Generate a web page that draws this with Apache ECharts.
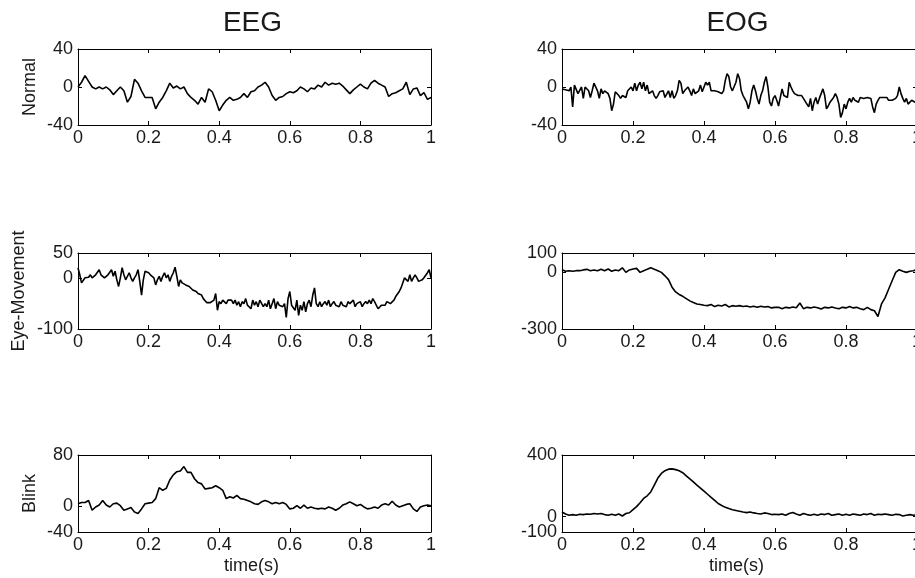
<!DOCTYPE html>
<html>
<head>
<meta charset="utf-8">
<script src="https://cdn.jsdelivr.net/npm/echarts@6/dist/echarts.min.js"></script>
<style>
html,body{margin:0;padding:0;background:#fff;}
#chart{width:915px;height:578px;}
</style>
</head>
<body>
<div id="chart"></div>
<script>
// ---------- chart text ----------
const columnTitles = ['EEG', 'EOG'];
const rowNames = ['Normal', 'Eye-Movement', 'Blink'];
const xLabel = 'time(s)';
const xTicks = [0, 0.2, 0.4, 0.6, 0.8, 1];

// y tick values per row: [EEG, EOG]
const yTicksNormal = [[-40, 0, 40], [-40, 0, 40]];
const yTicksEye = [[-100, 0, 50], [-300, 0, 100]];
const yTicksBlink = [[-40, 0, 80], [-100, 0, 400]];

// ---------- signals (time 0..1 s) ----------
const eegNormalStep = 0.01;
const eegNormal = [
  0, 5, 12, 6, 0, -2, 0, -2, 0, -3,
  -8, -4, 0, -4, -16, -10, 8, 4, -4, -11,
  -11, -11, -23, -16, -11, -4, 4, -1, 1, -2,
  0, -7, -11, -14, -18, -11, -16, -2, -5, -14,
  -25, -19, -14, -11, -14, -13, -11, -7, -11, -5,
  -4, 0, 2, 5, 0, -9, -14, -11, -10, -7,
  -5, -6, -4, 0, -2, -5, -1, -2, 2, 0,
  5, 2, 4, 3, 4, 1, -3, -7, -3, 0,
  3, 0, -2, 4, 7, 4, 2, 0, -10, -7,
  -6, -4, -2, 5, -8, -2, -1, -9, -6, -13,
  -11
];

const eogNormalStep = 0.005;
const eogNormal = [
  -2, -1, -3, -4, -4, 0, -21, 2, 0, -7, -9, 0, -12, 0, 2, -4, -11, -4, 4, 5,
  -4, -12, -2, -7, -4, -5, -7, -12, -25, -18, -5, -4, -9, -12, -9, -7, -11, -4, -4, 0,
  -4, 4, -4, 2, 5, -2, 5, -4, 2, -7, -7, -4, -9, -12, -9, -5, -5, -4, -11, -12,
  -4, -11, -4, -12, -9, -4, 7, 4, -7, -4, -5, 0, -4, -9, -2, -7, -5, -4, 2, -5,
  0, 5, 2, 5, -4, -2, -4, -5, -5, -5, -7, -4, 7, 14, 11, 0, -4, -5, 5, 14,
  9, -4, -9, -7, -16, -23, -16, -4, 2, -4, -12, -18, -9, -4, 5, 11, 0, -16, -20, -12,
  -9, -14, -20, -11, -2, -9, -7, -11, 5, 0, -4, -7, -5, -9, -7, -9, -12, -11, -18, -21,
  -12, -25, -16, -11, -18, -12, -7, -2, -9, -23, -20, -16, -14, -11, -7, -11, -18, -32, -27, -18,
  -23, -16, -12, -16, -11, -14, -12, -16, -11, -9, -12, -14, -11, -9, -12, -21, -27, -18, -14, -11,
  -12, -11, -12, -11, -14, -12, -14, -12, -12, -9, 0, -7, -12, -16, -12, -18, -20, -14, -12, -16,
  -16
];

const eegEyeStep = 0.005;
const eegEye = [
  21, 7, -9, -11, 1, 4, 2, 7, 1, 4, 7, 4, 17, 7, 4, 1, 4, 7, 4, 17,
  4, 14, -3, -16, 1, 21, 7, -3, -6, 11, 1, -6, 1, 7, 17, -6, -33, -3, 14, 14,
  11, 7, 4, 1, -13, -3, 4, -6, 4, 11, 1, 7, -6, 4, 11, 22, 4, -16, -3, -9,
  -9, -13, -13, -16, -19, -23, -23, -26, -30, -32, -33, -40, -43, -48, -46, -48, -46, -43, -30, -63,
  -46, -50, -43, -46, -50, -43, -46, -43, -50, -43, -53, -46, -56, -46, -50, -40, -53, -50, -60, -43,
  -53, -46, -56, -43, -40, -56, -50, -56, -43, -60, -50, -40, -60, -46, -53, -50, -56, -50, -77, -40,
  -26, -53, -50, -63, -43, -73, -53, -63, -46, -66, -50, -43, -56, -33, -19, -50, -56, -46, -56, -50,
  -46, -53, -43, -56, -50, -46, -53, -50, -56, -46, -53, -50, -56, -46, -50, -53, -43, -56, -50, -53,
  -46, -56, -50, -46, -50, -43, -50, -40, -46, -43, -60, -63, -53, -50, -53, -46, -43, -50, -53, -43,
  -36, -33, -26, -19, -9, 1, 4, -6, 7, -6, 1, 7, 1, -6, -6, -3, 1, 1, 11, 17,
  1
];

const eogEyeStep = 0.01;
const eogEye = [
  12, 4, 7, 4, 7, 7, 11, 14, 7, 11,
  7, 14, 7, 16, 4, 11, 7, 22, -2, 11,
  16, 19, -2, 7, 14, 22, 14, 7, -2, -20,
  -40, -80, -105, -118, -128, -140, -152, -161, -168, -171,
  -175, -177, -171, -182, -175, -179, -171, -184, -177, -180,
  -177, -182, -179, -184, -180, -186, -180, -184, -182, -189,
  -186, -186, -193, -186, -189, -184, -188, -163, -193, -186,
  -189, -184, -188, -195, -186, -189, -184, -189, -193, -186,
  -189, -182, -189, -186, -193, -198, -186, -198, -204, -234,
  -168, -136, -91, -46, -2, 12, 4, -2, 4, 7,
  14
];

const eegBlinkStep = 0.01;
const eegBlink = [
  4, 6, 6, 9, -6, -1, 2, 9, 2, -1,
  4, 5, 1, -6, -4, -2, -9, -11, -4, 4,
  5, 6, 12, 29, 25, 28, 41, 49, 54, 55,
  62, 53, 53, 43, 37, 35, 27, 28, 29, 32,
  29, 25, 12, 15, 13, 17, 12, 11, 9, 7,
  4, 3, 7, 9, 7, 4, 6, 4, 6, 3,
  -4, -3, 1, -3, 2, -3, -1, -3, -4, -3,
  -4, -1, -3, -6, -3, 2, 4, 7, 4, 1,
  3, -1, -4, -3, -1, -3, 2, 4, 2, 8,
  2, -1, 1, 3, 4, -4, -8, -1, 1, 2,
  1
];

const eogBlinkStep = 0.01;
const eogBlink = [
  30, 17, 9, 13, 9, 15, 13, 17, 15, 20,
  17, 20, 13, 9, 15, 9, 17, 4, 20, 25,
  45, 65, 90, 118, 135, 160, 205, 250, 280, 298,
  308, 310, 305, 298, 285, 265, 245, 225, 205, 185,
  165, 145, 125, 105, 85, 72, 60, 52, 45, 40,
  35, 30, 26, 30, 24, 20, 17, 24, 20, 13,
  15, 13, 17, 9, 20, 26, 17, 9, 20, 13,
  9, 15, 9, 17, 13, 20, 9, 13, 17, 9,
  15, 9, 17, 13, 9, 17, 13, 20, 9, 15,
  13, 17, 13, 9, 15, 13, 4, 9, 13, 9,
  13
];

// ---------- layout ----------
const panels = [
  {data: eegNormal, step: eegNormalStep, ticks: yTicksNormal[0]},
  {data: eogNormal, step: eogNormalStep, ticks: yTicksNormal[1]},
  {data: eegEye, step: eegEyeStep, ticks: yTicksEye[0]},
  {data: eogEye, step: eogEyeStep, ticks: yTicksEye[1]},
  {data: eegBlink, step: eegBlinkStep, ticks: yTicksBlink[0]},
  {data: eogBlink, step: eogBlinkStep, ticks: yTicksBlink[1]}
];
const colLeft = [78, 562];
const colWidth = [353, 355];
const rowTop = [49, 253, 455];
const rowHeight = [76, 76, 77];

const FONT = '"Liberation Sans", Arial, Helvetica, sans-serif';
const TXT = '#1a1a1a';

const grids = [], xAxes = [], yAxes = [], series = [];
panels.forEach((p, g) => {
  const r = Math.floor(g / 2), c = g % 2;
  grids.push({left: colLeft[c], top: rowTop[r], width: colWidth[c], height: rowHeight[r],
    containLabel: false, outerBoundsMode: 'none', show: false});
  const axLine = {show: true, onZero: false, lineStyle: {color: '#000', width: 1}};
  const xBase = {type: 'value', gridIndex: g, min: 0, max: 1, interval: 0.2,
    axisLine: axLine, splitLine: {show: false},
    axisTick: {show: true, inside: true, length: 4, lineStyle: {color: '#000'}}};
  xAxes.push(Object.assign({}, xBase, {position: 'bottom',
    axisLabel: {show: true, margin: 4, fontSize: 18, fontFamily: FONT, color: TXT,
      hideOverlap: false, showMinLabel: true, showMaxLabel: true,
      formatter: v => String(+(+v).toFixed(1))}}));
  xAxes.push(Object.assign({}, xBase, {position: 'top', axisLabel: {show: false}}));
  const yMin = p.ticks[0], yMax = p.ticks[p.ticks.length - 1];
  const yBase = {type: 'value', gridIndex: g, min: yMin, max: yMax,
    splitLine: {show: false}};
  const labelStyle = {show: true, margin: 5, fontSize: 18, fontFamily: FONT, color: TXT,
    hideOverlap: false, formatter: v => String(v)};
  // left axis: line, ticks, labels except the bottom one
  yAxes.push(Object.assign({}, yBase, {position: 'left', axisLine: axLine,
    axisTick: {show: true, inside: true, length: 4, customValues: p.ticks, lineStyle: {color: '#000'}},
    axisLabel: Object.assign({}, labelStyle, {customValues: p.ticks.slice(1)})}));
  // right mirror axis: line and ticks only
  yAxes.push(Object.assign({}, yBase, {position: 'right', axisLine: axLine,
    axisTick: {show: true, inside: true, length: 4, customValues: p.ticks, lineStyle: {color: '#000'}},
    axisLabel: {show: false}}));
  // second left axis: only the bottom label (kept apart so it is never hidden as overlapping)
  yAxes.push(Object.assign({}, yBase, {position: 'left', axisLine: {show: false},
    axisTick: {show: false},
    axisLabel: Object.assign({}, labelStyle, {customValues: [p.ticks[0]]})}));
  series.push({
    type: 'line', xAxisIndex: 2 * g, yAxisIndex: 3 * g,
    data: p.data.map((v, i) => [i * p.step, v]),
    showSymbol: false, symbol: 'none', smooth: false,
    lineStyle: {color: '#000', width: 1.6},
    clip: true, silent: true
  });
});

const graphics = [];
columnTitles.forEach((t, c) => {
  graphics.push({type: 'text', x: colLeft[c] + colWidth[c] / 2 - 2, y: 23,
    style: {text: t, font: '28px ' + FONT, fill: TXT, textAlign: 'center', textVerticalAlign: 'middle'}});
  graphics.push({type: 'text', x: colLeft[c] + colWidth[c] / 2 - 3, y: 566,
    style: {text: xLabel, font: '18px ' + FONT, fill: TXT, textAlign: 'center', textVerticalAlign: 'middle'}});
});
const rowNameX = [30, 19, 30];
rowNames.forEach((n, r) => {
  graphics.push({type: 'text', x: rowNameX[r], y: rowTop[r] + rowHeight[r] / 2, rotation: Math.PI / 2,
    style: {text: n, font: '18px ' + FONT, fill: TXT, textAlign: 'center', textVerticalAlign: 'middle'}});
});

const chart = echarts.init(document.getElementById('chart'), null, {renderer: 'canvas'});
chart.setOption({
  animation: false,
  backgroundColor: '#fff',
  grid: grids,
  xAxis: xAxes,
  yAxis: yAxes,
  series: series,
  graphic: graphics
});
</script>
</body>
</html>
